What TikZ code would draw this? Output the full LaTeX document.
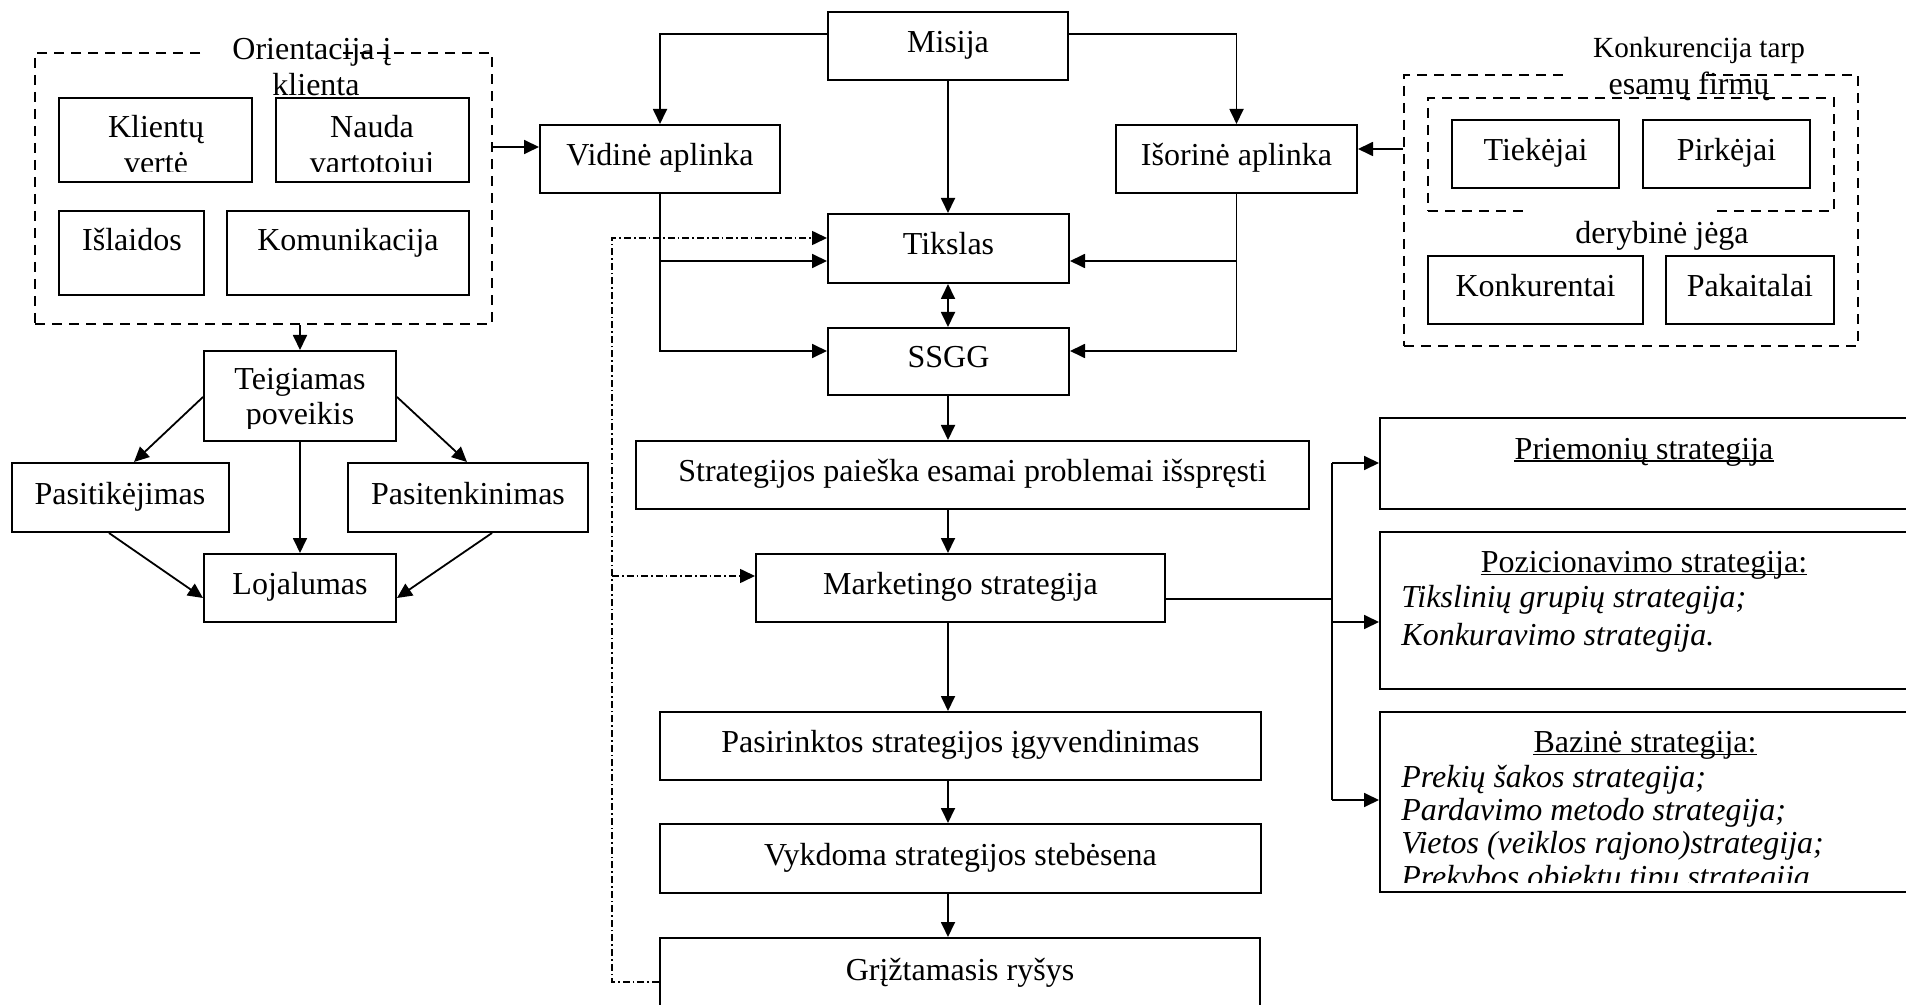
\documentclass[tikz,border=0pt]{standalone}
\usepackage{fontspec}
\setmainfont{Liberation Serif}
\usetikzlibrary{arrows.meta}

\tikzset{
  bx/.style={draw, line width=1pt, inner sep=0pt, text height=10.5pt, text depth=4pt},
  dbx/.style={draw, line width=0.9pt, inner sep=0pt, dash pattern=on 5pt off 3.5pt},
  tl/.style={inner sep=0pt, anchor=base},
  tlw/.style={inner sep=0pt, anchor=base west, font=\fontsize{16pt}{18pt}\selectfont\itshape},
  ln/.style={line width=0.9pt},
  arr/.style={line width=0.9pt, -{Triangle[length=7.5pt,width=7pt]}},
  arrtwo/.style={line width=0.9pt, {Triangle[length=7.5pt,width=7pt]}-{Triangle[length=7.5pt,width=7pt]}},
  dd/.style={line width=0.8pt, dash pattern=on 3.5pt off 1.5pt on 0.8pt off 1.5pt, -{Triangle[length=7.5pt,width=7pt]}},
  uline/.style={line width=0.9pt},
}

\begin{document}
\begin{tikzpicture}[x=0.5pt, y=-0.5pt, font=\fontsize{16pt}{18pt}\selectfont]
\useasboundingbox (0,0) rectangle (1906,1005);
\fill[white] (0,0) rectangle (1906,1005);
\clip (0,0) rectangle (1906,1005);

% ---------- central column ----------
\node[bx, minimum width=120pt, minimum height=34pt] (mis) at (948,46) {Misija};
\node[bx, minimum width=120pt, minimum height=34pt] (vid) at (660,159) {Vidinė aplinka};
\node[bx, minimum width=120.5pt, minimum height=34pt] (isor) at (1236.5,159) {Išorinė aplinka};
\node[bx, minimum width=120.5pt, minimum height=34.5pt] (tik) at (948.5,248.5) {Tikslas};
\node[bx, minimum width=120.5pt, minimum height=33.5pt] (ssgg) at (948.5,361.5) {SSGG};
\node[bx, minimum width=336.5pt, minimum height=34pt] (strat) at (972.5,475) {Strategijos paieška esamai problemai išspręsti};
\node[bx, minimum width=204.5pt, minimum height=34pt] (mark) at (960.5,588) {Marketingo strategija};
\node[bx, minimum width=300.5pt, minimum height=34pt] (pasir) at (960.5,746) {Pasirinktos strategijos įgyvendinimas};
\node[bx, minimum width=300.5pt, minimum height=34.5pt] (vykd) at (960.5,858.5) {Vykdoma strategijos stebėsena};
\node[bx, minimum width=300pt, minimum height=36pt] (griz) at (960,974) {Grįžtamasis ryšys};

% ---------- customer orientation group ----------
\node[dbx, minimum width=228.5pt, minimum height=135.5pt] (orient) at (263.5,188.5) {};
\fill[white] (205,45) rectangle (337,61);
\node[tl] (ort1) at (312,60) {Orientacija į};
\node[tl] (ort2) at (316,96) {klienta};

\node[bx, minimum width=96.5pt, minimum height=42pt] (klv) at (155.5,140) {};
\node[bx, minimum width=96.5pt, minimum height=42pt] (nau) at (372.5,140) {};
\node[bx, minimum width=72.5pt, minimum height=42pt] (isl) at (131.5,253) {};
\node[bx, minimum width=121pt, minimum height=42pt] (kom) at (348,253) {};
\begin{scope}
  \clip (59,98) rectangle (469,172);
  \node[tl] (klvt1) at (156,138) {Klientų};
  \node[tl] (klvt2) at (156,174) {vertė};
  \node[tl] (naut1) at (372,138) {Nauda};
  \node[tl] (naut2) at (372,174) {vartotojui};
\end{scope}
\node[tl] (islt) at (132,251) {Išlaidos};
\node[tl] (komt) at (348,251) {Komunikacija};

% ---------- loyalty group ----------
\node[bx, minimum width=96pt, minimum height=45pt] (teig) at (300,396) {};
\begin{scope}
  \clip (204,351) rectangle (396,429);
  \node[tl] (teigt1) at (300,390) {Teigiamas};
  \node[tl] (teigt2) at (300,425) {poveikis};
\end{scope}
\node[bx, minimum width=108.5pt, minimum height=34.5pt] (pti) at (120,497.5) {Pasitikėjimas};
\node[bx, minimum width=120pt, minimum height=34.5pt] (pte) at (468,497.5) {Pasitenkinimas};
\node[bx, minimum width=96pt, minimum height=34pt] (loj) at (300,588) {Lojalumas};

% ---------- competition group ----------
\node[dbx, minimum width=227pt, minimum height=135.5pt] (rout) at (1631,210.5) {};
\node[dbx, minimum width=203pt, minimum height=56.5pt] (rin) at (1631,154.5) {};
\fill[white] (1563,68) rectangle (1703,84);
\fill[white] (1525,203) rectangle (1714,219);
\node[tl, font=\fontsize{14.6pt}{16pt}\selectfont] (kt1) at (1699,58) {Konkurencija tarp};
\node[tl] (kt2) at (1689,95) {esamų firmų};
\node[tl] (dj) at (1662,244) {derybinė jėga};
\node[bx, minimum width=83.5pt, minimum height=34pt] (tie) at (1535.5,154) {Tiekėjai};
\node[bx, minimum width=83.5pt, minimum height=34pt] (pir) at (1726.5,154) {Pirkėjai};
\node[bx, minimum width=107.5pt, minimum height=34pt] (kon) at (1535.5,290) {Konkurentai};
\node[bx, minimum width=84pt, minimum height=34pt] (pak) at (1750,290) {Pakaitalai};

% ---------- strategy boxes on the right ----------
\node[bx, minimum width=265pt, minimum height=45.5pt] (prm) at (1645,463.5) {};
\node[bx, minimum width=265pt, minimum height=78.5pt] (poz) at (1645,610.5) {};
\node[bx, minimum width=265pt, minimum height=90pt] (baz) at (1645,802) {};

\node[tl] (prmt) at (1644,459) {Priemonių strategija};
\draw[uline] ([yshift=-1.2pt]prmt.base west) -- ([yshift=-1.2pt]prmt.base east);

\node[tl] (pozt) at (1644,572) {Pozicionavimo strategija:};
\draw[uline] ([yshift=-1.2pt]pozt.base west) -- ([yshift=-1.2pt]pozt.base east);
\node[tlw] (poz1) at (1401,607) {Tikslinių grupių strategija;};
\node[tlw] (poz2) at (1401,645) {Konkuravimo strategija.};

\node[tl] (bazt) at (1645,752) {Bazinė strategija:};
\draw[uline] ([yshift=-1.2pt]bazt.base west) -- ([yshift=-1.2pt]bazt.base east);
\node[tlw] (baz1) at (1401,787) {Prekių šakos strategija;};
\node[tlw] (baz2) at (1401,820) {Pardavimo metodo strategija;};
\node[tlw] (baz3) at (1401,853) {Vietos (veiklos rajono)strategija;};
\begin{scope}
  \clip (1380,712) rectangle (1906,882);
  \node[tlw] (baz4) at (1401,887) {Prekybos objektų tipų strategija};
\end{scope}

% ---------- connectors: central flow ----------
\draw[arr] (orient.east |- 0,147) -- (vid.west |- 0,147);
\draw[arr] (rout.west |- 0,149) -- (isor.east |- 0,149);
\draw[arr] (mis.west |- 0,34) -| (vid.north);
\draw[arr] (mis.east |- 0,34) -| (isor.north);
\draw[arr] (mis.south) -- (mis.south |- tik.north);
\draw[arr] (vid.south) |- (ssgg.west |- 0,351);
\draw[arr] (vid.south |- 0,261) -- (tik.west |- 0,261);
\draw[arr] (isor.south) |- (ssgg.east |- 0,351);
\draw[arr] (isor.south |- 0,261) -- (tik.east |- 0,261);
\draw[arrtwo] (tik.south -| mis) -- (ssgg.north -| mis);
\draw[arr] (ssgg.south -| mis) -- (strat.north -| mis);
\draw[arr] (strat.south -| mis) -- (mark.north -| mis);
\draw[arr] (mark.south -| mis) -- (pasir.north -| mis);
\draw[arr] (pasir.south -| mis) -- (vykd.north -| mis);
\draw[arr] (vykd.south -| mis) -- (griz.north -| mis);

% ---------- connectors: strategy bus ----------
\coordinate (bj) at (1332,599);
\coordinate (bt) at (1332,463);
\coordinate (bm) at (1332,622);
\coordinate (bb) at (1332,800);
\draw[ln] (mark.east |- bj) -- (bj);
\draw[ln] (bt) -- (bb);
\draw[arr] (bt) -- (prm.west |- bt);
\draw[arr] (bm) -- (poz.west |- bm);
\draw[arr] (bb) -- (baz.west |- bb);

% ---------- connectors: feedback loop ----------
\coordinate (fb1) at (612,982);
\coordinate (fb2) at (612,238);
\coordinate (fb3) at (612,576);
\draw[dd] (griz.west |- fb1) -- (fb1) -- (fb2) -- (tik.west |- fb2);
\draw[dd] (fb3) -- (mark.west |- fb3);

% ---------- connectors: loyalty group ----------
\draw[arr] (orient.south -| teig) -- (teig.north);
\draw[arr] (teig.west |- 0,397) -- (pti.north -| 134,0);
\draw[arr] (teig.east |- 0,397) -- (pte.north -| 467,0);
\draw[arr] (teig.south) -- (loj.north);
\draw[arr] (pti.south -| 109,0) -- (loj.west |- 0,598);
\draw[arr] (pte.south -| 492,0) -- (loj.east |- 0,598);
\end{tikzpicture}
\end{document}
